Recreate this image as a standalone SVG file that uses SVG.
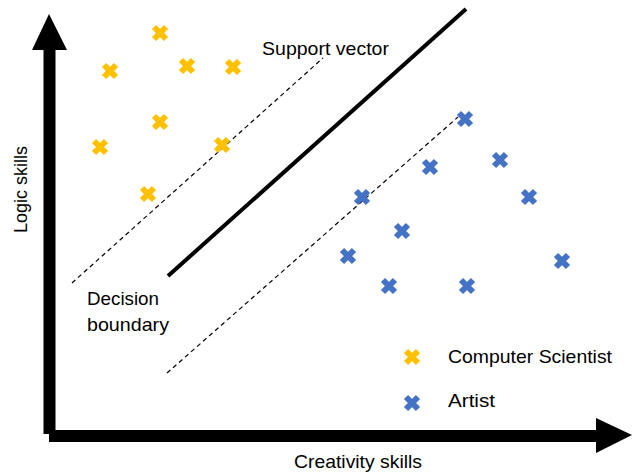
<svg xmlns="http://www.w3.org/2000/svg" width="634" height="473" viewBox="0 0 634 473">
<defs>
<style>
.lbl{font-family:"Liberation Sans","DejaVu Sans",sans-serif;font-size:19px;fill:#000}
.y{stroke:#FFC000;stroke-width:6;stroke-linecap:butt}
.b{stroke:#4472C4;stroke-width:6;stroke-linecap:butt}
.dash{stroke:#000;stroke-width:1.2;stroke-dasharray:4.5 3.5;fill:none}
</style>
<g id="xm"><path d="M-6,-6L6,6M-6,6L6,-6"/></g>
</defs>
<rect width="634" height="473" fill="#fff"/>
<g id="axes">
<rect x="43.5" y="48" width="12" height="386" fill="#000"/>
<polygon points="49,14 67,50 32,50" fill="#000"/>
<rect x="49" y="430" width="549" height="12" fill="#000"/>
<polygon points="632,435 596,418 596,453" fill="#000"/>
</g>
<g id="connectors">
<line x1="168" y1="276" x2="466" y2="9" stroke="#000" stroke-width="4"/>
<line class="dash" x1="72" y1="283" x2="323" y2="58"/>
<line class="dash" x1="167" y1="373" x2="458" y2="117"/>
</g>
<g id="computer-scientists" class="y">
<use href="#xm" x="160" y="33"/>
<use href="#xm" x="110" y="71"/>
<use href="#xm" x="187" y="66"/>
<use href="#xm" x="233" y="67"/>
<use href="#xm" x="160" y="122"/>
<use href="#xm" x="100" y="147"/>
<use href="#xm" x="222" y="145"/>
<use href="#xm" x="148" y="194"/>
</g>
<g id="artists" class="b">
<use href="#xm" x="465" y="119"/>
<use href="#xm" x="500" y="160"/>
<use href="#xm" x="430" y="167"/>
<use href="#xm" x="362" y="197"/>
<use href="#xm" x="529" y="197"/>
<use href="#xm" x="402" y="231"/>
<use href="#xm" x="348" y="256"/>
<use href="#xm" x="562" y="261"/>
<use href="#xm" x="389" y="286"/>
<use href="#xm" x="467" y="286"/>
</g>
<g id="legend">
<use href="#xm" x="412" y="357" class="y"/>
<use href="#xm" x="412" y="403" class="b"/>
<text class="lbl" x="448" y="363" textLength="164" lengthAdjust="spacingAndGlyphs">Computer Scientist</text>
<text class="lbl" x="448" y="407" textLength="47" lengthAdjust="spacingAndGlyphs">Artist</text>
</g>
<g id="labels">
<text class="lbl" x="262" y="55" textLength="127" lengthAdjust="spacingAndGlyphs">Support vector</text>
<text class="lbl" x="87" y="305" textLength="72" lengthAdjust="spacingAndGlyphs">Decision</text>
<text class="lbl" x="87" y="331" textLength="82" lengthAdjust="spacingAndGlyphs">boundary</text>
<text class="lbl" x="294" y="468" textLength="128" lengthAdjust="spacingAndGlyphs">Creativity skills</text>
<text class="lbl" transform="translate(27,233) rotate(-90)" textLength="87" lengthAdjust="spacingAndGlyphs">Logic skills</text>
</g>
</svg>
